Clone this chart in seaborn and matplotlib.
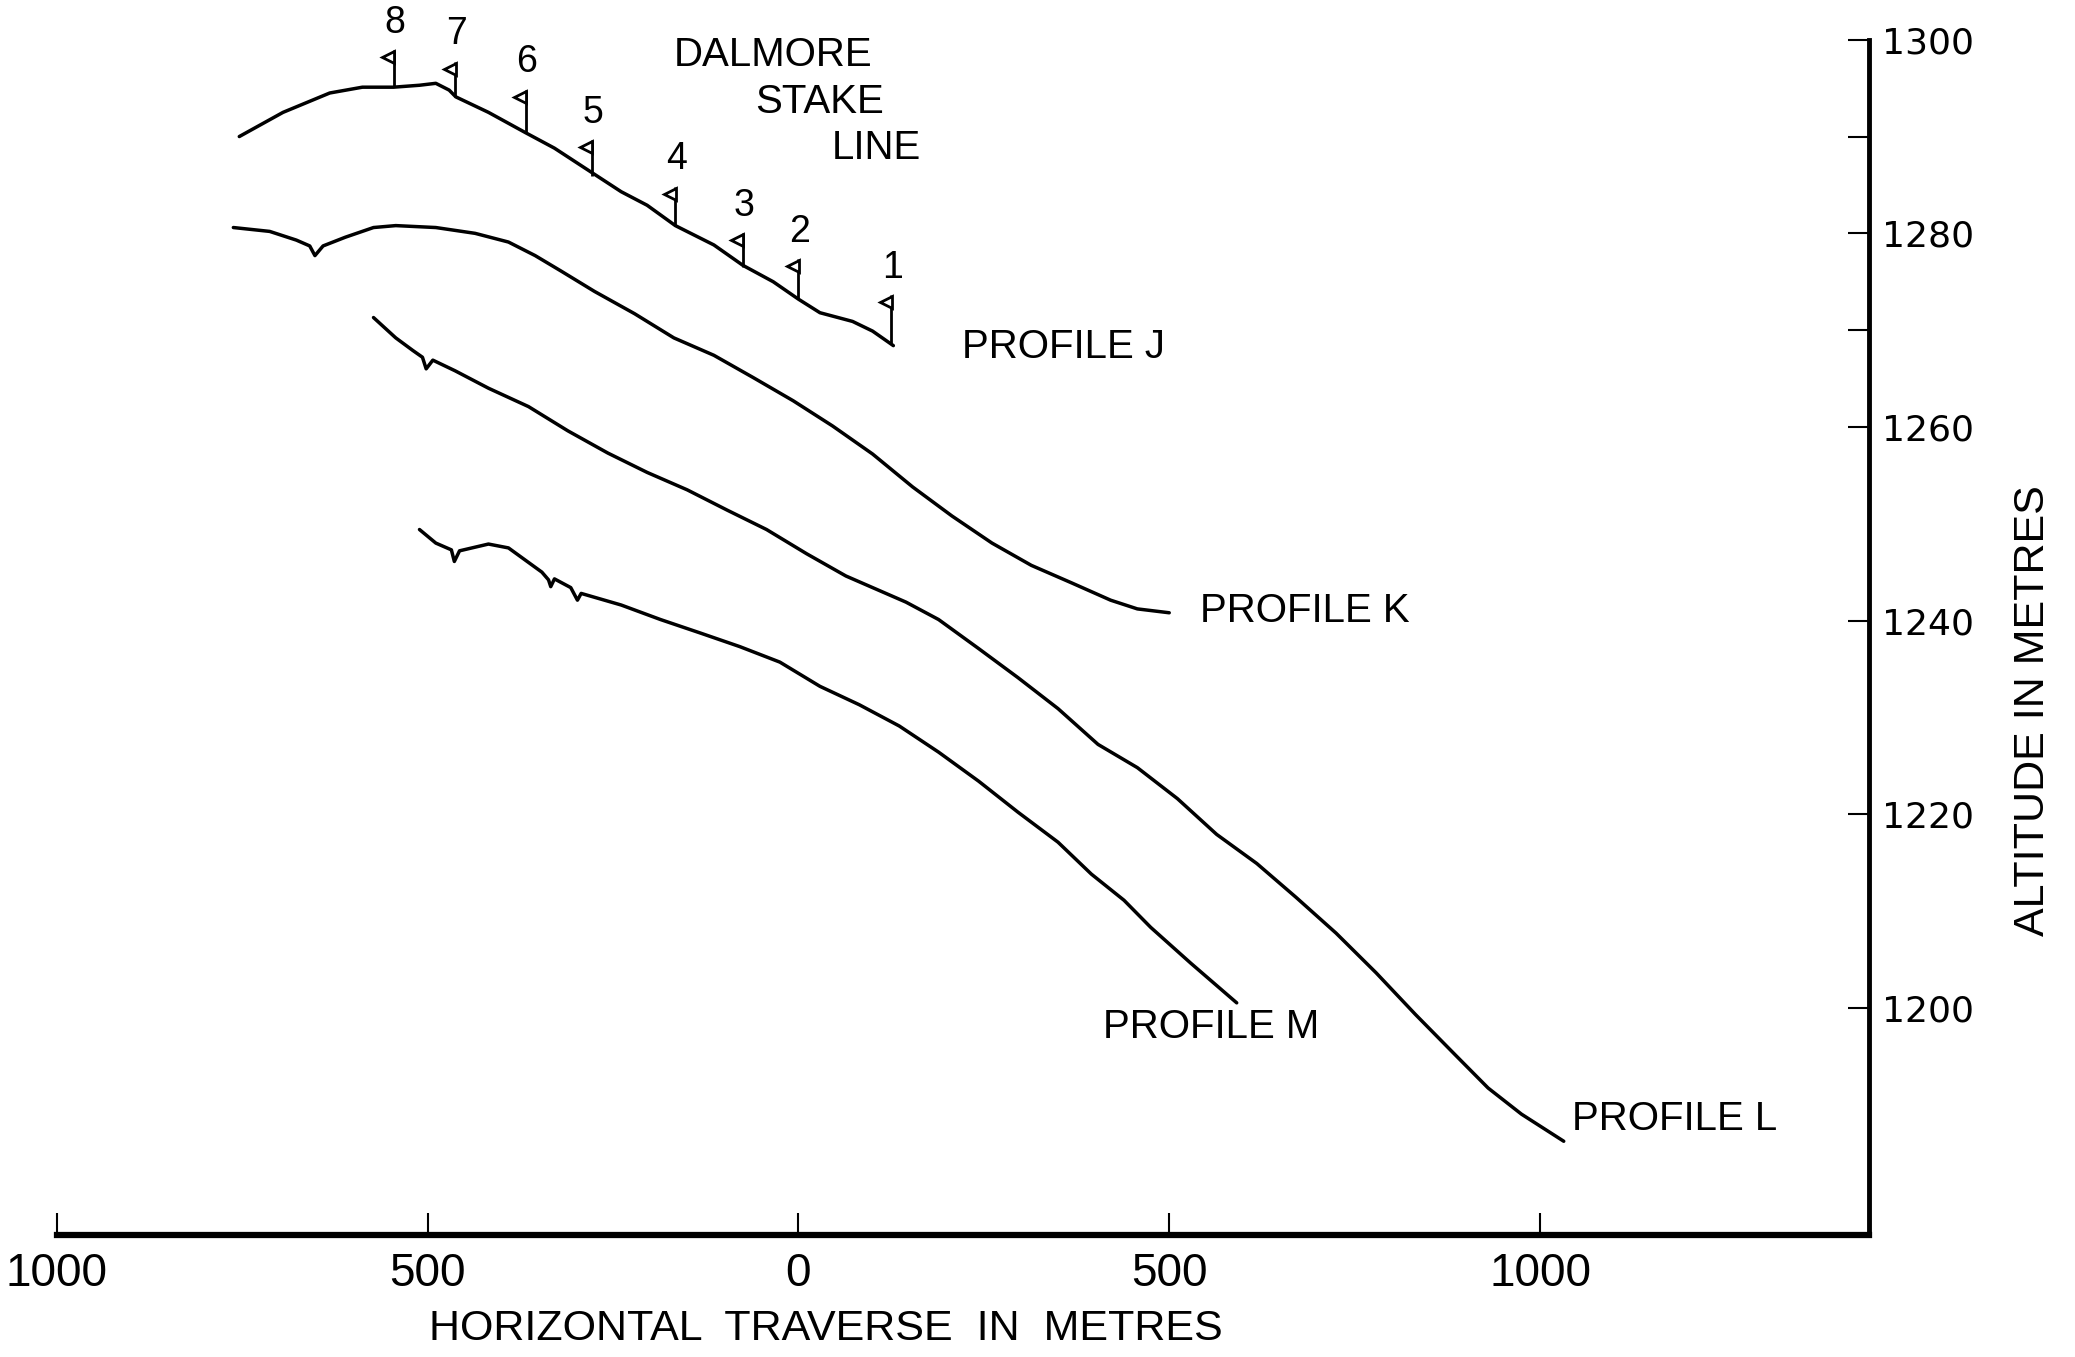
import numpy as np
import pandas as pd
import matplotlib
matplotlib.use("Agg")
import matplotlib.pyplot as plt
import seaborn as sns
from matplotlib.transforms import offset_copy

# ---------------- data ----------------
j_x = [-754, -695, -632, -588, -546, -511, -489, -471, -462, -418, -368, -329, -279,
       -239, -204, -166, -114, -75, -34, 0, 29, 73, 100, 128]
j_y = [1290.0, 1292.5, 1294.5, 1295.1, 1295.1, 1295.3, 1295.5, 1294.8, 1294.1, 1292.5,
       1290.4, 1288.8, 1286.3, 1284.3, 1282.9, 1280.8, 1278.8, 1276.7, 1275.0, 1273.2,
       1271.8, 1270.9, 1269.9, 1268.4]

k_x = [-762, -713, -677, -659, -652, -641, -611, -573, -543, -489, -436, -391, -355,
       -320, -275, -221, -168, -114, -61, -7, 46, 100, 154, 207, 261, 314, 368, 421,
       457, 500]
k_y = [1280.6, 1280.2, 1279.3, 1278.7, 1277.7, 1278.7, 1279.6, 1280.6, 1280.8, 1280.6,
       1280.0, 1279.1, 1277.7, 1276.1, 1274.0, 1271.7, 1269.2, 1267.4, 1265.1, 1262.7,
       1260.1, 1257.2, 1253.8, 1250.8, 1248.0, 1245.7, 1243.9, 1242.1, 1241.2, 1240.8]

l_x = [-573, -543, -520, -507, -502, -493, -463, -418, -364, -311, -257, -204, -150,
       -96, -43, 11, 64, 145, 189, 243, 296, 350, 404, 457, 511, 564, 618, 671, 725,
       779, 832, 886, 930, 975, 1032]
l_y = [1271.3, 1269.2, 1267.9, 1267.2, 1266.0, 1266.9, 1265.8, 1264.0, 1262.1, 1259.6,
       1257.3, 1255.3, 1253.5, 1251.4, 1249.4, 1246.9, 1244.6, 1241.9, 1240.1, 1237.1,
       1234.1, 1230.9, 1227.2, 1224.8, 1221.6, 1217.9, 1214.9, 1211.4, 1207.7, 1203.6,
       1199.3, 1195.1, 1191.7, 1189.0, 1186.2]

m_x = [-511, -489, -468, -464, -457, -418, -391, -364, -346, -337, -334, -329, -307,
       -298, -293, -239, -186, -132, -79, -25, 29, 82, 136, 189, 243, 296, 350, 395,
       439, 475, 529, 591]
m_y = [1249.4, 1248.0, 1247.3, 1246.1, 1247.2, 1247.9, 1247.5, 1246.0, 1245.0, 1244.2,
       1243.5, 1244.3, 1243.4, 1242.1, 1242.8, 1241.6, 1240.1, 1238.7, 1237.3, 1235.7,
       1233.2, 1231.3, 1229.1, 1226.4, 1223.4, 1220.2, 1217.1, 1213.8, 1211.1, 1208.3,
       1204.6, 1200.5]

stake_ids = ["8", "7", "6", "5", "4", "3", "2", "1"]
stake_x = [-546, -463, -368, -279, -166, -75, 0, 125]
stake_base = [1295.1, 1294.1, 1290.4, 1285.9, 1280.8, 1276.5, 1273.2, 1268.7]
stake_top = [1298.9, 1297.7, 1294.8, 1289.6, 1284.8, 1280.0, 1277.3, 1273.6]

x_ticks = [-1000, -500, 0, 500, 1000]
x_tick_labels = ["1000", "500", "0", "500", "1000"]
y_ticks = [1200, 1220, 1240, 1260, 1270, 1280, 1290, 1300]
y_tick_labels = ["1200", "1220", "1240", "1260", "", "1280", "", "1300"]

profiles = pd.concat([
    pd.DataFrame({"x": j_x, "alt": j_y, "profile": "J"}),
    pd.DataFrame({"x": k_x, "alt": k_y, "profile": "K"}),
    pd.DataFrame({"x": l_x, "alt": l_y, "profile": "L"}),
    pd.DataFrame({"x": m_x, "alt": m_y, "profile": "M"}),
], ignore_index=True)

# ---------------- figure ----------------
sns.set_theme(style="white")
plt.rcParams["font.family"] = ["Liberation Sans", "DejaVu Sans"]
plt.rcParams["text.color"] = "black"

fig = plt.figure(figsize=(20.75, 13.57), dpi=100)
ax = fig.add_axes([0.0274, 0.0898, 0.8731, 0.8809])

sns.lineplot(data=profiles, x="x", y="alt", units="profile", estimator=None,
             sort=False, color="black", linewidth=2.5, ax=ax, legend=False)

# stakes
ax.vlines(stake_x, stake_base, stake_top, color="black", linewidth=2.0)
flag_tr = offset_copy(ax.transData, fig=fig, x=-4, y=-5, units="points")
ax.plot(stake_x, stake_top, linestyle="none", marker="<", markersize=9,
        markerfacecolor="white", markeredgecolor="black", markeredgewidth=2.0,
        transform=flag_tr)
for sid, sx, st in zip(stake_ids, stake_x, stake_top):
    ax.annotate(sid, (sx, st), xytext=(1, 7), textcoords="offset points",
                ha="center", va="bottom", fontsize=27)

# labels
txt = dict(fontsize=29, ha="left", va="center")
ax.text(220, 1268.3, "PROFILE J", **txt)
ax.text(541, 1241.0, "PROFILE K", **txt)
ax.text(1043, 1188.5, "PROFILE L", **txt)
ax.text(411, 1198.0, "PROFILE M", **txt)
ax.text(-168, 1298.4, "DALMORE", **txt)
ax.text(-59, 1293.6, "STAKE", **txt)
ax.text(45, 1288.8, "LINE", **txt)

# axes
ax.set_xlim(-1000, 1443)
ax.set_ylim(1176.5, 1300)
for s in ["top", "left"]:
    ax.spines[s].set_visible(False)
ax.spines["bottom"].set_linewidth(4.5)
ax.spines["right"].set_linewidth(3.5)
ax.spines["bottom"].set_color("black")
ax.spines["right"].set_color("black")

ax.set_xticks(x_ticks)
ax.set_xticklabels(x_tick_labels)
ax.tick_params(axis="x", direction="in", length=16, width=1.5, pad=12,
               labelsize=33, colors="black", bottom=True)

ax.yaxis.tick_right()
ax.set_yticks(y_ticks)
ax.set_yticklabels(y_tick_labels, family="DejaVu Sans")
ax.tick_params(axis="y", direction="in", length=15, width=1.5, pad=10,
               labelsize=26, colors="black", right=True, left=False)

ax.set_xlabel("HORIZONTAL  TRAVERSE  IN  METRES", fontsize=31, color="black")
ax.xaxis.set_label_coords(0.4245, -0.062)
ax.yaxis.set_label_position("right")
ax.set_ylabel("ALTITUDE IN METRES", fontsize=31, color="black", rotation=90)
ax.yaxis.set_label_coords(1.08, 0.4387)

fig.savefig("out.png", dpi=100, facecolor="white")
